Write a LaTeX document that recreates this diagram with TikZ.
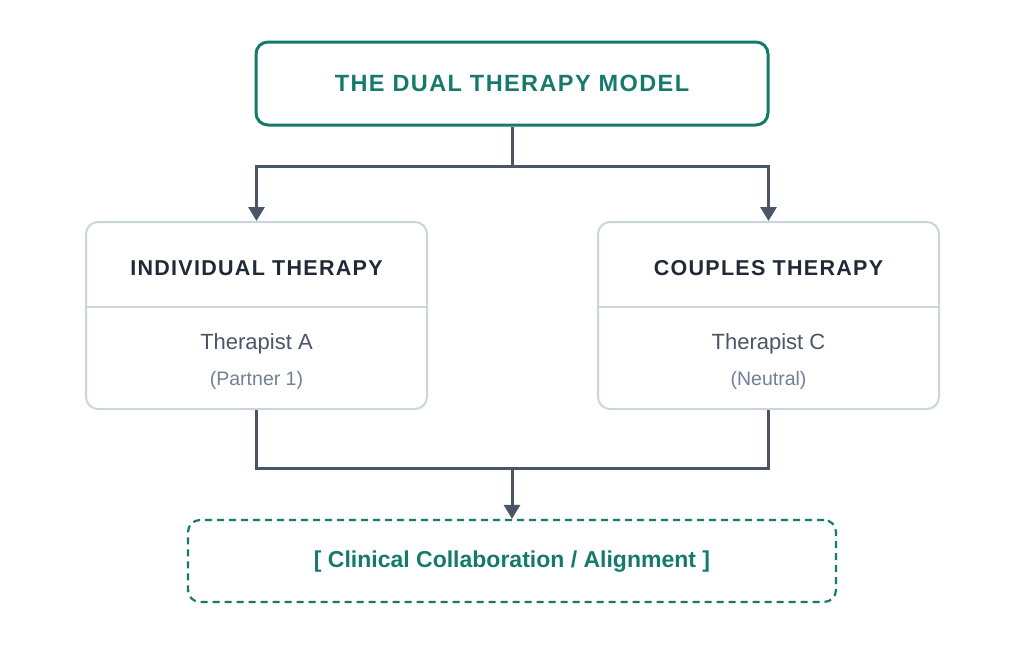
\documentclass[tikz,border=0pt]{standalone}
\usepackage{fontspec}
\setmainfont{Liberation Sans}
\newfontfamily\capsfont[LetterSpace=6]{Liberation Sans}
\usetikzlibrary{arrows.meta}
\definecolor{tealdk}{rgb}{0.086,0.478,0.416}
\definecolor{slate}{rgb}{0.29,0.333,0.408}
\definecolor{slatelt}{rgb}{0.443,0.5,0.588}
\definecolor{inkdk}{rgb}{0.122,0.161,0.216}
\definecolor{rim}{rgb}{0.796,0.835,0.878}

\begin{document}
\begin{tikzpicture}[x=1pt,y=-1pt,>={Triangle[width=16pt,length=14pt]},
  topbox/.style={draw=tealdk, line width=3pt, rounded corners=12pt, minimum width=512pt, minimum height=83pt, inner sep=0pt},
  sidebox/.style={draw=rim, line width=2pt, fill=white, rounded corners=12pt, minimum width=341pt, minimum height=187pt, inner sep=0pt},
  endbox/.style={draw=tealdk, line width=2.2pt, dash pattern=on 7pt off 5pt, rounded corners=12pt, minimum width=648pt, minimum height=82pt, inner sep=0pt},
  link/.style={draw=slate, line width=3pt}]
\useasboundingbox (0,0) rectangle (1024,665);
% boxes
\node[topbox] (model) at (512,83.5) {};
\node[sidebox] (indiv) at (256.5,315.5) {};
\node[sidebox] (couples) at (768.5,315.5) {};
\node[endbox] (collab) at (512,561) {};
\draw [rim, line width=1.5pt] (indiv.west |- 0,307) -- (indiv.east |- 0,307);
\draw [rim, line width=1.5pt] (couples.west |- 0,307) -- (couples.east |- 0,307);
% connectors
\coordinate (split) at (512,166);
\coordinate (merge) at (512,468);
\draw [link] (model.south) -- (split);
\draw [link,->] (split) -| (indiv.north);
\draw [link,->] (split) -| (couples.north);
\draw [link] (indiv.south) |- (merge);
\draw [link] (couples.south) |- (merge);
\draw [link,->] (merge) -- (collab.north);
% texts
\node[text=tealdk, font=\fontsize{23.5}{27}\selectfont\capsfont\bfseries] (modeltxt) at (512,83) {THE DUAL THERAPY MODEL};
\node[text=inkdk, font=\fontsize{21.5}{25}\selectfont\capsfont\bfseries] (indivtxt) at (256.5,268) {INDIVIDUAL THERAPY};
\node[text=inkdk, font=\fontsize{21.5}{25}\selectfont\capsfont\bfseries] (couptxt) at (768.5,268) {COUPLES THERAPY};
\node[text=slate, font=\fontsize{22}{26}\selectfont] (thera) at (256.5,344) {Therapist A};
\node[text=slatelt, font=\fontsize{19.5}{23}\selectfont] (partner) at (256.5,380) {(Partner 1)};
\node[text=slate, font=\fontsize{22}{26}\selectfont] (therc) at (768.5,344) {Therapist C};
\node[text=slatelt, font=\fontsize{19.5}{23}\selectfont] (neutral) at (768.5,380) {(Neutral)};
\node[text=tealdk, font=\fontsize{23}{27}\selectfont\bfseries] (collabtxt) at (512,562) {[ Clinical Collaboration / Alignment ]};
\end{tikzpicture}
\end{document}
